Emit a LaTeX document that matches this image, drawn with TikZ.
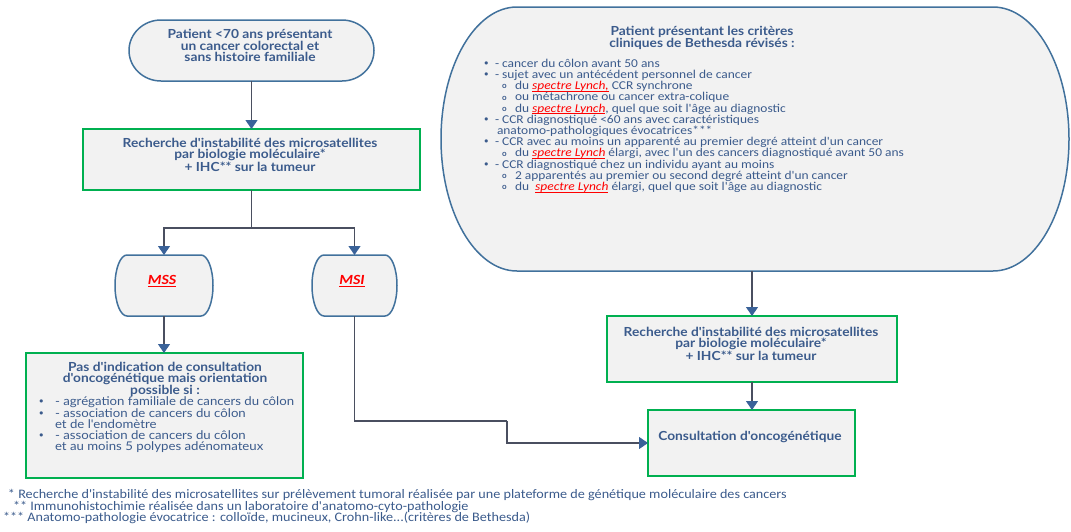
\documentclass[tikz,border=0pt]{standalone}
\usepackage{fontspec}
\setmainfont{Lato}
\newfontfamily\ttlfont{Lato}[FakeStretch=1.1]
\newfontfamily\cfont{Carlito}[FakeStretch=1.12]
\newfontfamily\notefont{Carlito}[FakeStretch=1.09]
\newfontfamily\symfont{DejaVu Sans}
\usetikzlibrary{arrows.meta,calc}

\definecolor{txtblue}{HTML}{3B5B8C}
\definecolor{edgeblue}{HTML}{41719C}
\definecolor{boxgreen}{HTML}{00B050}
\definecolor{boxfill}{HTML}{F2F2F2}
\definecolor{linegray}{HTML}{4A4F60}
\definecolor{tipblue}{HTML}{3A6299}
\definecolor{lynchred}{HTML}{FF0000}

% underline drawn as a rule under the text
\newcommand\uln[1]{\leavevmode\setbox0\hbox{#1}\rlap{\raisebox{-1.8pt}{\rule{\wd0}{0.8pt}}}\box0}
% red underlined italic for "spectre Lynch"
\newcommand\lynch[1]{{\color{lynchred}\itshape\uln{#1}}}
% list markers
\newcommand\mainbul[1]{\makebox[#1][l]{\symfont\fontsize{11}{11}\selectfont •}}
\newcommand\subbul[1]{\makebox[#1][l]{\fontfamily{\familydefault}\bfseries\fontsize{8}{8}\selectfont\raisebox{0.8pt}{o}}}

% box with elliptical left and right sides
\newcommand\ovalsides[3]{%
  \draw[ovalline] ($(#1.north west)+(#2,0)$) -- ($(#1.north east)+(-#2,0)$)
    arc[start angle=90,end angle=-90,x radius=#2,y radius=#3]
    -- ($(#1.south west)+(#2,0)$)
    arc[start angle=270,end angle=90,x radius=#2,y radius=#3] -- cycle;}

\begin{document}
\begin{tikzpicture}[x=1pt,y=1pt,
  every node/.style={inner sep=0pt,outer sep=0pt},
  area/.style={draw=none},
  ovalline/.style={draw=edgeblue,line width=1.5pt,fill=boxfill},
  greenbox/.style={draw=boxgreen,line width=1.8pt,fill=boxfill},
  connector/.style={draw=linegray,line width=1.2pt},
  arrow/.style={connector,-{Triangle[width=12pt,length=9pt,color=tipblue]}},
  ttl/.style={text=txtblue,font=\ttlfont\bfseries\fontsize{12.5}{11}\selectfont,align=center},
  lst/.style={text=txtblue,font=\cfont\fontsize{12}{11.2}\selectfont,align=left},
  plst/.style={text=txtblue,font=\ttlfont\fontsize{12}{11}\selectfont,align=left},
  note/.style={text=txtblue,font=\notefont\fontsize{13}{13}\selectfont,anchor=base west},
  tag/.style={font=\cfont\bfseries\itshape\fontsize{14}{14}\selectfont}]

\path[use as bounding box] (0,0) rectangle (1071,-531);

% --- shapes ---
\node[area,minimum width=245,minimum height=61] (start) at (251.5,-50.5) {};
\ovalsides{start}{32}{30.5}

\node[greenbox,minimum width=337,minimum height=61] (msi1) at (251.5,-159.5) {};

\node[area,minimum width=98,minimum height=61] (mss) at (164,-285.5) {};
\ovalsides{mss}{12}{30.5}
\node[area,minimum width=85,minimum height=61] (msi) at (354.5,-285.5) {};
\ovalsides{msi}{12}{30.5}

\node[greenbox,minimum width=277,minimum height=125] (pas) at (164.5,-415.5) {};

\node[area,minimum width=628,minimum height=264] (beth) at (755,-139) {};
\ovalsides{beth}{76}{132}

\node[greenbox,minimum width=290,minimum height=66] (msi2) at (752,-349) {};
\node[greenbox,minimum width=207,minimum height=66] (consult) at (751.5,-443) {};

% --- texts ---
\node[ttl,anchor=north] (start-t) at (250,-29)
  {Patient <70 ans présentant\\un cancer colorectal et\\sans histoire familiale};
\node[ttl,anchor=north] (msi1-t) at (250,-138)
  {Recherche d'instabilité des microsatellites\\par biologie moléculaire*\\+ IHC** sur la tumeur};
\node[tag,text=lynchred] (mss-t) at (162,-281) {\uln{MSS}};
\node[tag,text=lynchred] (msi-t) at (352,-281) {\uln{MSI}};

\node[ttl,anchor=north] (pas-t) at (165,-362)
  {Pas d'indication de consultation\\d'oncogénétique mais orientation\\possible si :};
\node[plst,anchor=north west] (pas-l) at (38,-397)
  {\mainbul{17pt}- agrégation familiale de cancers du côlon\\
   \mainbul{17pt}- association de cancers du côlon\\
   \hspace*{17pt}et de l'endomètre\\
   \mainbul{17pt}- association de cancers du côlon\\
   \hspace*{17pt}et au moins 5 polypes adénomateux};

\node[ttl,anchor=north] (beth-t) at (702,-26)
  {Patient présentant les critères\\cliniques de Bethesda révisés :};
\node[lst,anchor=north west] (beth-l) at (483,-59)
  {\mainbul{12pt}- cancer du côlon avant 50 ans\\
   \mainbul{12pt}- sujet avec un antécédent personnel de cancer\\
   \hspace*{19pt}\subbul{13pt}du \lynch{spectre Lynch,} CCR synchrone\\
   \hspace*{19pt}\subbul{13pt}ou métachrone ou cancer extra-colique\\
   \hspace*{19pt}\subbul{13pt}du \lynch{spectre Lynch}, quel que soit l'âge au diagnostic\\
   \mainbul{12pt}- CCR diagnostiqué <60 ans avec caractéristiques\\
   \hspace*{14pt}anatomo-pathologiques évocatrices***\\
   \mainbul{12pt}- CCR avec au moins un apparenté au premier degré atteint d'un cancer\\
   \hspace*{19pt}\subbul{13pt}du \lynch{spectre Lynch} élargi, avec l'un des cancers diagnostiqué avant 50 ans\\
   \mainbul{12pt}- CCR diagnostiqué chez un individu ayant au moins\\
   \hspace*{19pt}\subbul{13pt}2 apparentés au premier ou second degré atteint d'un cancer\\
   \hspace*{19pt}\subbul{13pt}du \ \lynch{spectre Lynch} élargi, quel que soit l'âge au diagnostic};

\node[ttl,anchor=north] (msi2-t) at (751,-327)
  {Recherche d'instabilité des microsatellites\\par biologie moléculaire*\\+ IHC** sur la tumeur};
\node[ttl] (consult-t) at (750,-437) {Consultation d'oncogénétique};

% --- footnotes ---
\node[note] (fn1) at (8,-498) {* Recherche d'instabilité des microsatellites sur prélèvement tumoral réalisée par une plateforme de génétique moléculaire des cancers};
\node[note] (fn2) at (13,-510) {** Immunohistochimie réalisée dans un laboratoire d'anatomo-cyto-pathologie};
\node[note] (fn3) at (3,-521) {*** Anatomo-pathologie évocatrice : colloïde, mucineux, Crohn-like...(critères de Bethesda)};

% --- connectors ---
\coordinate (split) at ($(msi1.south)+(0,-38)$);
\coordinate (bend) at (507,-421);
\draw[arrow] (start.south) -- (msi1.north);
\draw[connector] (msi1.south) -- (split);
\draw[arrow] (split) -| (mss.north);
\draw[arrow] (split) -| (msi.north);
\draw[arrow] (mss.south) -- (pas.north -| mss.south);
\draw[connector] (msi.south) |- (bend);
\draw[arrow] (bend) |- (consult.west);
\draw[arrow] (beth.south -| msi2.north) -- (msi2.north);
\draw[arrow] (msi2.south) -- (consult.north -| msi2.south);
\end{tikzpicture}
\end{document}
